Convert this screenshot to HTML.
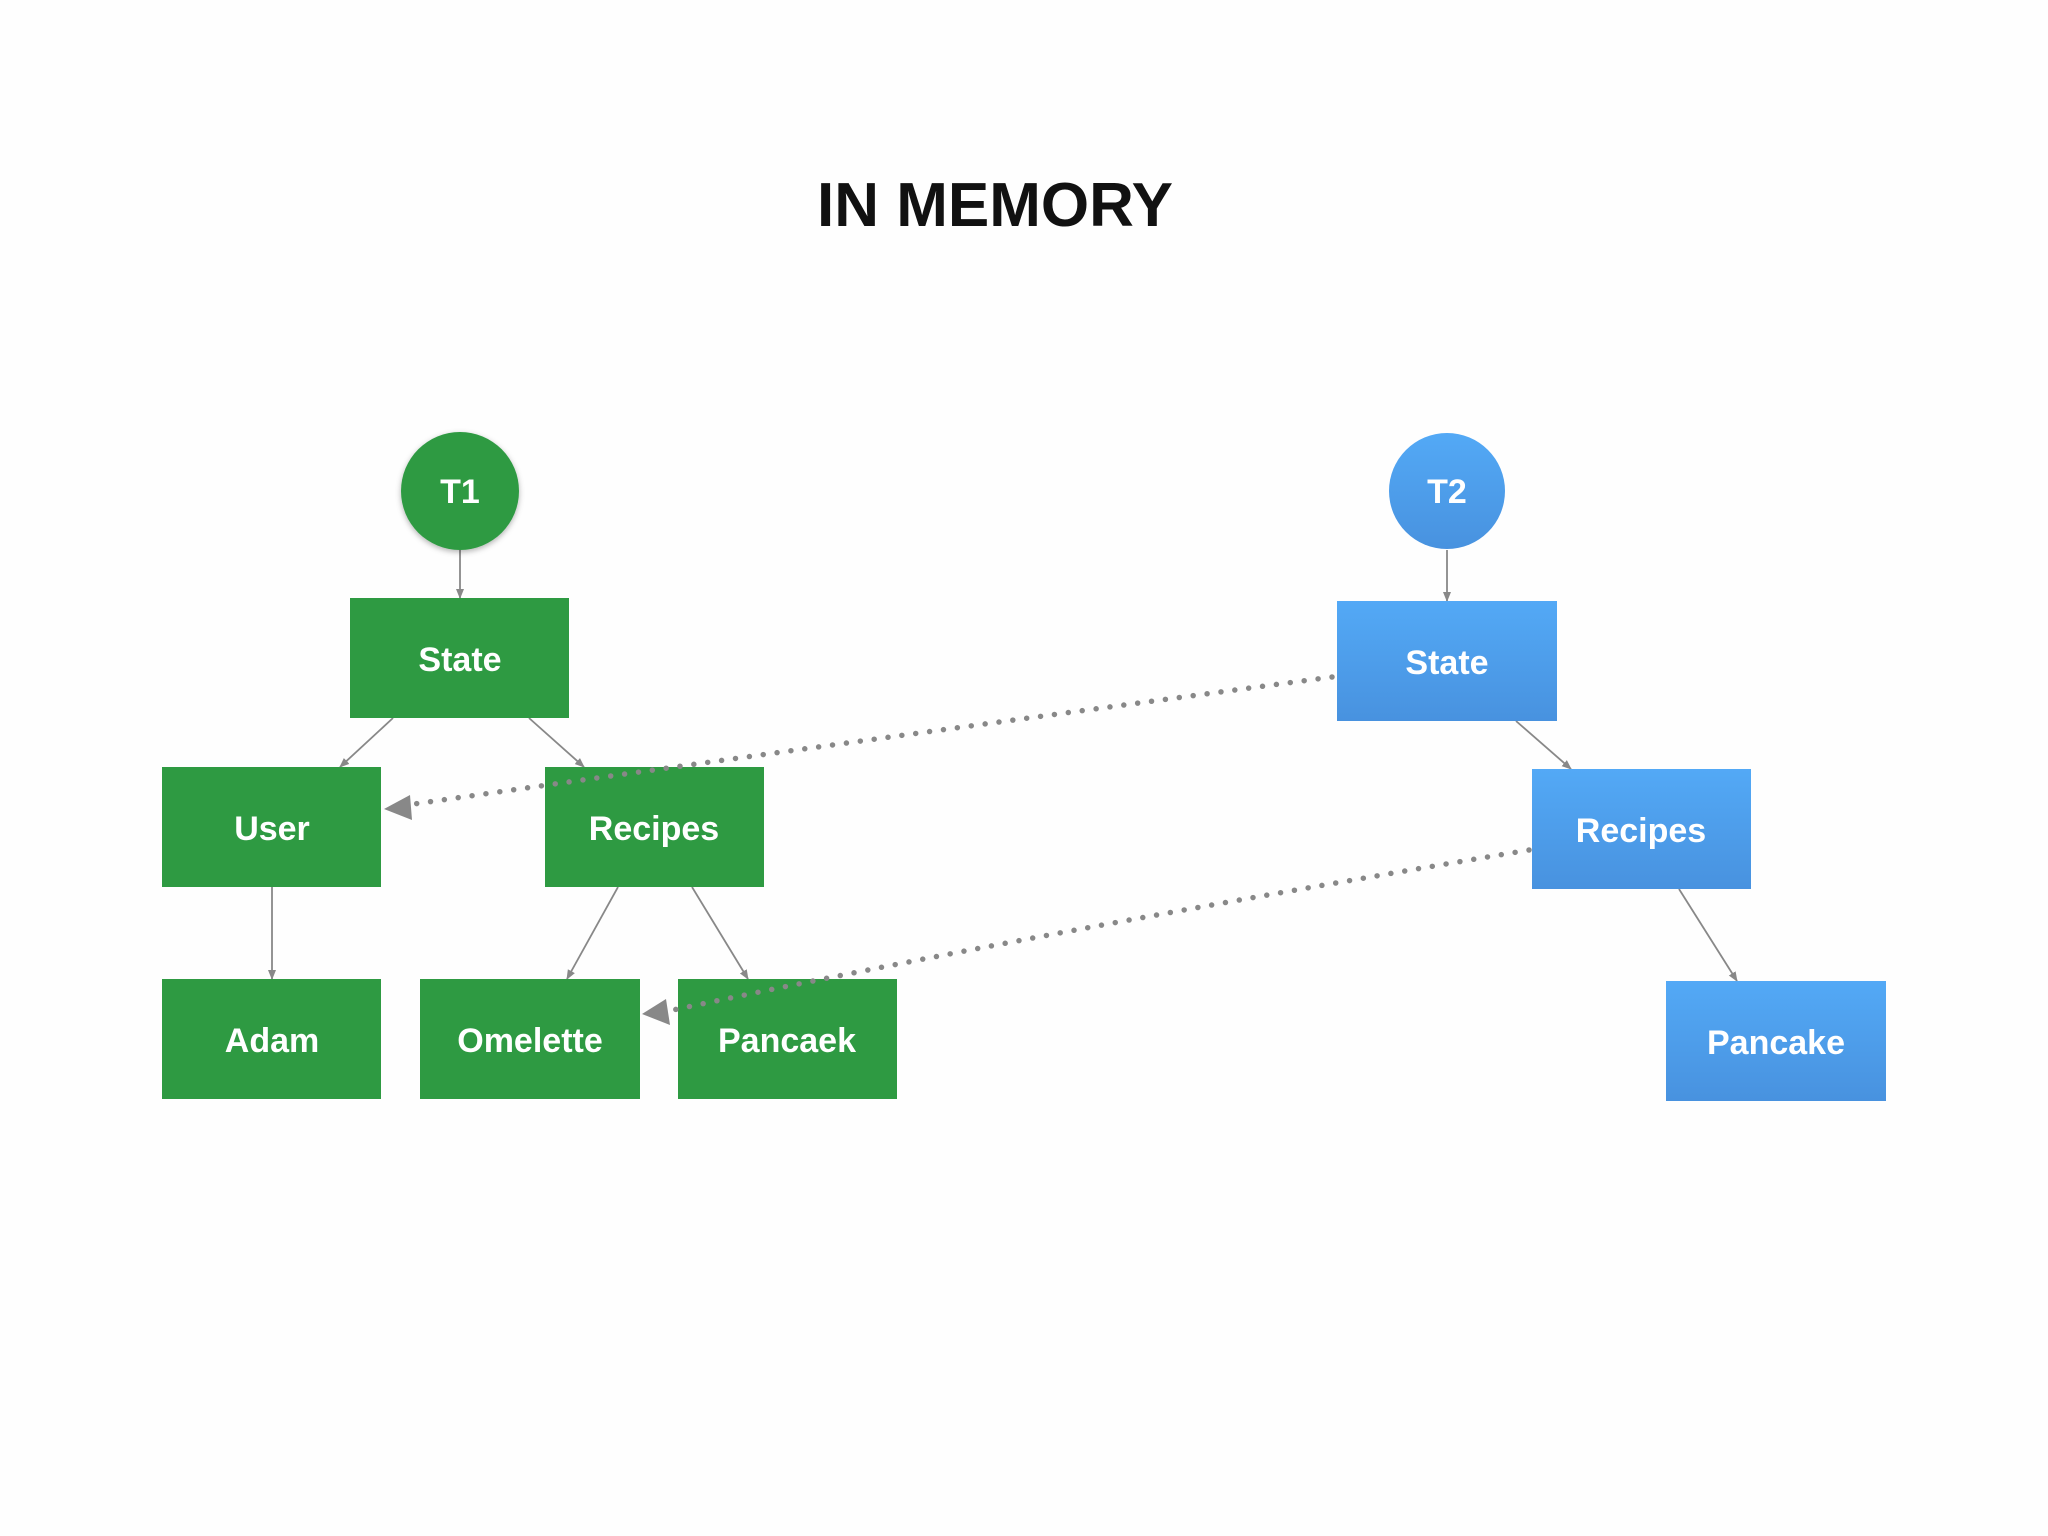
<!DOCTYPE html>
<html><head><meta charset="utf-8"><style>
html,body{margin:0;padding:0;background:#fefefe;}
svg{display:block;}
</style></head><body>
<svg width="2048" height="1536" viewBox="0 0 2048 1536" xmlns="http://www.w3.org/2000/svg">
<defs>
<linearGradient id="bl" x1="0" y1="0" x2="0" y2="1"><stop offset="0" stop-color="#53a9f6"/><stop offset="1" stop-color="#4892df"/></linearGradient>
<marker id="a" markerWidth="10" markerHeight="10" refX="9" refY="5" orient="auto" markerUnits="userSpaceOnUse"><path d="M0,1 L10,5 L0,9 z" fill="#888"/></marker>
<filter id="sh" x="-30%" y="-30%" width="160%" height="160%"><feDropShadow dx="0" dy="2" stdDeviation="3" flood-color="#000" flood-opacity="0.3"/></filter>
</defs>
<text x="995" y="226" font-family="Liberation Sans, sans-serif" font-size="62" font-weight="bold" fill="#111" text-anchor="middle">IN MEMORY</text>

<g stroke="#888" stroke-width="1.8" fill="none" marker-end="url(#a)">
<line x1="460" y1="550" x2="460" y2="598"/>
<line x1="393" y1="718" x2="340" y2="767"/>
<line x1="529" y1="718" x2="584" y2="767"/>
<line x1="272" y1="887" x2="272" y2="979"/>
<line x1="618" y1="887" x2="567" y2="979"/>
<line x1="692" y1="887" x2="748" y2="979"/>
<line x1="1447" y1="550" x2="1447" y2="601"/>
<line x1="1516" y1="721" x2="1571" y2="769"/>
<line x1="1679" y1="889" x2="1737" y2="981"/>
</g>

<g font-family="Liberation Sans, sans-serif" font-size="34" font-weight="bold" fill="#fff" text-anchor="middle">
<circle cx="460" cy="491" r="59" fill="#2e9a42" filter="url(#sh)"/>
<text x="460" y="503">T1</text>
<rect x="350" y="598" width="219" height="120" fill="#2e9a42"/><text x="460" y="671">State</text>
<rect x="162" y="767" width="219" height="120" fill="#2e9a42"/><text x="272" y="840">User</text>
<rect x="545" y="767" width="219" height="120" fill="#2e9a42"/><text x="654" y="840">Recipes</text>
<rect x="162" y="979" width="219" height="120" fill="#2e9a42"/><text x="272" y="1052">Adam</text>
<rect x="420" y="979" width="220" height="120" fill="#2e9a42"/><text x="530" y="1052">Omelette</text>
<rect x="678" y="979" width="219" height="120" fill="#2e9a42"/><text x="787" y="1052">Pancaek</text>

<circle cx="1447" cy="491" r="58" fill="url(#bl)"/>
<text x="1447" y="503">T2</text>
<rect x="1337" y="601" width="220" height="120" fill="url(#bl)"/><text x="1447" y="674">State</text>
<rect x="1532" y="769" width="219" height="120" fill="url(#bl)"/><text x="1641" y="842">Recipes</text>
<rect x="1666" y="981" width="220" height="120" fill="url(#bl)"/><text x="1776" y="1054">Pancake</text>
</g>

<g stroke="#888" stroke-width="5.5" stroke-linecap="round" stroke-dasharray="0 14" fill="none">
<path d="M1332,677 Q860,740 414,804"/>
<path d="M1529,850 Q1050,930 673,1010"/>
</g>
<path d="M384,809 L410,795 L412,820 z" fill="#888"/>
<path d="M642,1014 L666,999 L670,1025 z" fill="#888"/>
</svg>
</body></html>
